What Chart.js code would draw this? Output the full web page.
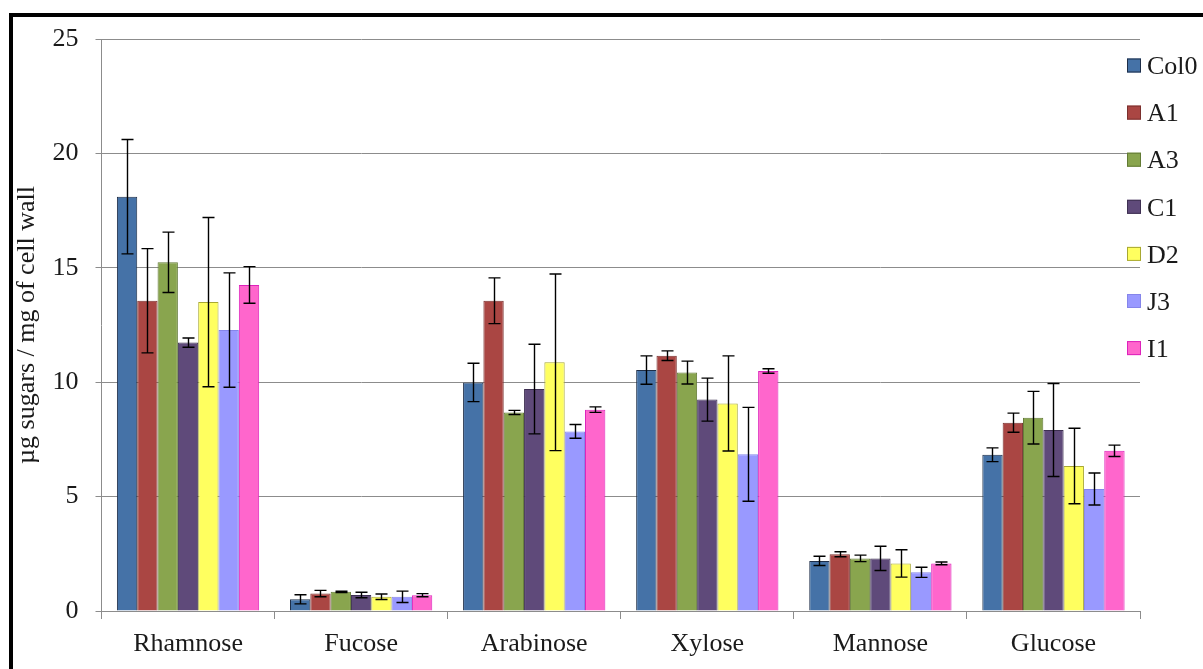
<!DOCTYPE html>
<html>
<head>
<meta charset="utf-8">
<title>Cell wall monosaccharide composition</title>
<script src="https://cdn.jsdelivr.net/npm/chart.js@4/dist/chart.umd.min.js"></script>
<style>
  html, body { margin: 0; padding: 0; background: #fff; }
  #wrap { position: relative; width: 1203px; height: 669px; overflow: hidden; }
  #frame { position: absolute; left: 9px; top: 13px; right: -10px; bottom: -10px;
           border-top: 4px solid #000; border-left: 4px solid #000; pointer-events: none; }
  canvas { display: block; }
</style>
</head>
<body>
<div id="wrap">
  <canvas id="c" width="1203" height="669"></canvas>
  <div id="frame"></div>
</div>
<script>
// Sugar categories on the x axis
const sugars = ['Rhamnose', 'Fucose', 'Arabinose', 'Xylose', 'Mannose', 'Glucose'];

// Lines (series) and their mean values, µg sugar per mg of cell wall
const lineNames = ['Col0', 'A1', 'A3', 'C1', 'D2', 'J3', 'I1'];
const col0 = [18.11, 0.51, 9.99, 10.53, 2.19, 6.83];
const a1   = [13.56, 0.76, 13.56, 11.16, 2.48, 8.23];
const a3   = [15.24, 0.84, 8.68, 10.42, 2.30, 8.45];
const c1   = [11.73, 0.70, 9.70, 9.24, 2.30, 7.91];
const d2   = [13.50, 0.62, 10.87, 9.07, 2.08, 6.34];
const j3   = [12.28, 0.62, 7.85, 6.85, 1.69, 5.33];
const i1   = [14.25, 0.69, 8.80, 10.49, 2.08, 7.00];

// Error bar half-lengths for each line
const col0Err = [2.50, 0.20, 0.84, 0.62, 0.20, 0.30];
const a1Err   = [2.28, 0.14, 1.00, 0.21, 0.11, 0.42];
const a3Err   = [1.32, 0.03, 0.09, 0.50, 0.14, 1.15];
const c1Err   = [0.20, 0.12, 1.96, 0.94, 0.53, 2.03];
const d2Err   = [3.70, 0.12, 3.86, 2.08, 0.60, 1.65];
const j3Err   = [2.50, 0.25, 0.30, 2.05, 0.22, 0.70];
const i1Err   = [0.80, 0.07, 0.12, 0.10, 0.06, 0.25];

// Y axis ticks
const yTicks = [0, 5, 10, 15, 20, 25];

const seriesValues = [col0, a1, a3, c1, d2, j3, i1];
const seriesErrors = [col0Err, a1Err, a3Err, c1Err, d2Err, j3Err, i1Err];
const fills   = ['#4572A7', '#AA4643', '#89A54E', '#5F4A7A', '#FFFF5F', '#9999FF', '#FF66CC'];
const borders = ['#1E2E48', '#7A302E', '#627A34', '#3E3052', '#A8A832', '#8585EA', '#DD22BB'];

const FONT = "'Liberation Serif', 'Times New Roman', serif";
const TEXT = '#1a1a1a';
const GRID = '#8c8c8c';

// Symmetric error bars drawn on top of each bar
const errorBars = {
  id: 'errorBars',
  afterDatasetsDraw(chart) {
    const ctx = chart.ctx;
    const y = chart.scales.y;
    ctx.save();
    ctx.strokeStyle = '#000';
    ctx.lineWidth = 1.4;
    chart.data.datasets.forEach((ds, i) => {
      const meta = chart.getDatasetMeta(i);
      meta.data.forEach((bar, j) => {
        const v = ds.data[j], e = seriesErrors[i][j];
        const top = y.getPixelForValue(v + e);
        const bot = y.getPixelForValue(v - e);
        const x = Math.round(bar.x) + 0.5;
        const cap = 6;
        ctx.beginPath();
        ctx.moveTo(x, top); ctx.lineTo(x, bot);
        ctx.moveTo(x - cap, top); ctx.lineTo(x + cap, top);
        ctx.moveTo(x - cap, bot); ctx.lineTo(x + cap, bot);
        ctx.stroke();
      });
    });
    ctx.restore();
  }
};

// Legend column on the right, built from the datasets
const sideLegend = {
  id: 'sideLegend',
  afterDraw(chart) {
    const ctx = chart.ctx;
    const left = 1127, firstY = 65.5, step = 47.1, box = 14;
    ctx.save();
    ctx.font = '26px ' + FONT;
    ctx.textBaseline = 'alphabetic';
    ctx.textAlign = 'left';
    chart.data.datasets.forEach((ds, i) => {
      const cy = firstY + i * step;
      ctx.fillStyle = ds.backgroundColor;
      ctx.fillRect(left, cy - box / 2, box, box);
      ctx.strokeStyle = ds.borderColor;
      ctx.lineWidth = 1;
      ctx.strokeRect(left + 0.5, cy - box / 2 + 0.5, box - 1, box - 1);
      ctx.fillStyle = TEXT;
      ctx.fillText(ds.label, left + box + 6, cy + 8.7);
    });
    ctx.restore();
  }
};

new Chart(document.getElementById('c'), {
  type: 'bar',
  data: {
    labels: sugars,
    datasets: lineNames.map((name, i) => ({
      label: name,
      data: seriesValues[i],
      backgroundColor: fills[i],
      borderColor: borders[i],
      borderWidth: 1,
      categoryPercentage: 0.822,
      barPercentage: 1.0
    }))
  },
  options: {
    responsive: false,
    animation: false,
    devicePixelRatio: 1,
    layout: { padding: { left: 12, top: 39, right: 63, bottom: 0 } },
    plugins: {
      legend: { display: false },
      tooltip: { enabled: false }
    },
    scales: {
      x: {
        afterFit(scale) { scale.height = 58; scale.paddingLeft = 0; scale.paddingRight = 0; },
        grid: { display: true, offset: true, drawOnChartArea: false, drawTicks: true,
                tickLength: 8, color: GRID, tickColor: GRID },
        border: { display: true, color: GRID, width: 1 },
        ticks: { color: TEXT, padding: 10, font: { family: FONT, size: 26 } }
      },
      y: {
        min: 0,
        max: 25,
        afterFit(scale) { scale.width = 89.5; },
        afterBuildTicks(scale) { scale.ticks = yTicks.map(v => ({ value: v })); },
        grid: { color: GRID, tickColor: GRID, tickLength: 6, drawTicks: true },
        border: { display: true, color: GRID, width: 1 },
        ticks: { color: TEXT, padding: 17, font: { family: FONT, size: 26 } },
        title: {
          display: true,
          text: 'µg sugars / mg of cell wall',
          color: TEXT,
          padding: { top: 0, bottom: 9 },
          font: { family: FONT, size: 26 }
        }
      }
    }
  },
  plugins: [errorBars, sideLegend]
});
</script>
</body>
</html>
